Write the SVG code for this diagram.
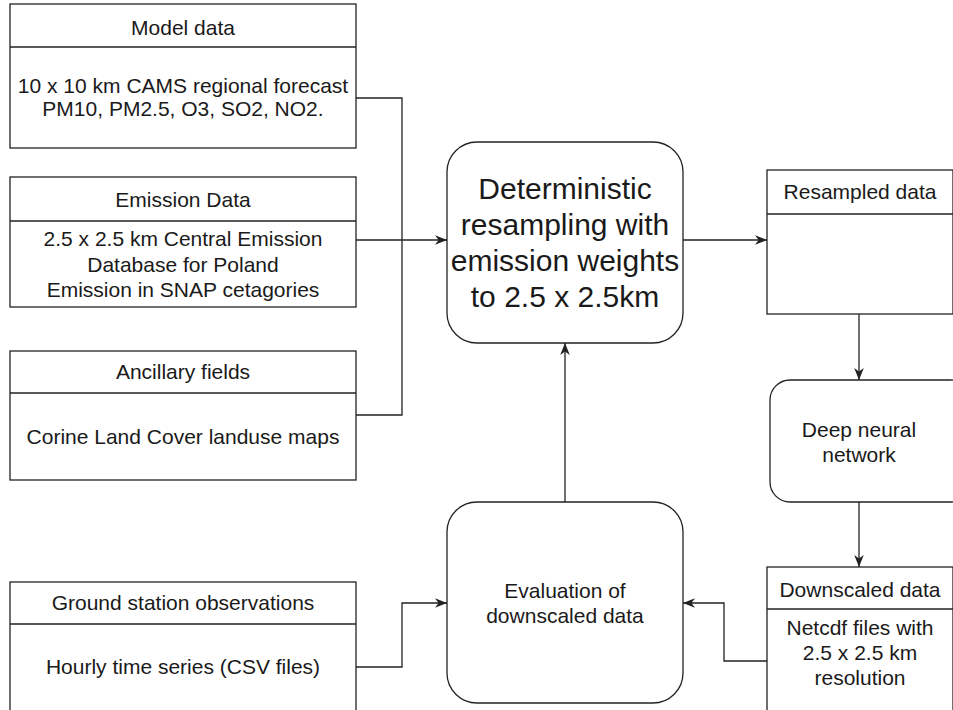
<svg xmlns="http://www.w3.org/2000/svg" width="953" height="710" viewBox="0 0 953 710">
<defs>
<style>
.box{fill:#fff;stroke:#222;stroke-width:1.3}
.ln{fill:none;stroke:#222;stroke-width:1.3}
.t{font-family:"Liberation Sans",Arial,sans-serif;font-size:21px;fill:#1a1a1a;text-anchor:middle}
.big{font-size:30px}
</style>
<marker id="arr" viewBox="0 0 10 8" refX="10" refY="4" markerWidth="12" markerHeight="10" markerUnits="userSpaceOnUse" orient="auto">
<path d="M0,0 L10,4 L0,8 L3,4 Z" fill="#222"/>
</marker>
</defs>
<rect width="953" height="710" fill="#fff"/>

<g id="connectors">
<path class="ln" d="M356,98 H402 V240"/>
<path class="ln" d="M356,415 H402 V240"/>
<path class="ln" d="M356,240 H447" marker-end="url(#arr)"/>
<path class="ln" d="M356,667 H402 V603 H447" marker-end="url(#arr)"/>
<path class="ln" d="M683,240 H767" marker-end="url(#arr)"/>
<path class="ln" d="M859,314 V380" marker-end="url(#arr)"/>
<path class="ln" d="M859,502 V567" marker-end="url(#arr)"/>
<path class="ln" d="M767,661 H724 V603 H683" marker-end="url(#arr)"/>
<path class="ln" d="M565,502 V343" marker-end="url(#arr)"/>
</g>

<g id="model-data">
<rect class="box" x="10" y="4" width="346" height="144"/>
<line class="ln" x1="10" y1="47" x2="356" y2="47"/>
<text class="t" x="183" y="34.5">Model data</text>
<text class="t" x="183" y="92.5">10 x 10 km CAMS regional forecast</text>
<text class="t" x="183" y="115.5">PM10, PM2.5, O3, SO2, NO2.</text>
</g>

<g id="emission-data">
<rect class="box" x="10" y="177" width="346" height="130"/>
<line class="ln" x1="10" y1="221" x2="356" y2="221"/>
<text class="t" x="183" y="207">Emission Data</text>
<text class="t" x="183" y="246">2.5 x 2.5 km Central Emission</text>
<text class="t" x="183" y="271.5">Database for Poland</text>
<text class="t" x="183" y="297">Emission in SNAP cetagories</text>
</g>

<g id="ancillary-fields">
<rect class="box" x="10" y="351" width="346" height="129"/>
<line class="ln" x1="10" y1="393" x2="356" y2="393"/>
<text class="t" x="183" y="379">Ancillary fields</text>
<text class="t" x="183" y="444">Corine Land Cover landuse maps</text>
</g>

<g id="ground-station">
<rect class="box" x="10" y="582" width="346" height="140"/>
<line class="ln" x1="10" y1="624" x2="356" y2="624"/>
<text class="t" x="183" y="610">Ground station observations</text>
<text class="t" x="183" y="674">Hourly time series (CSV files)</text>
</g>

<g id="resampling">
<rect class="box" x="447" y="142" width="236" height="201" rx="30" ry="30"/>
<text class="t big" x="565" y="199">Deterministic</text>
<text class="t big" x="565" y="235">resampling with</text>
<text class="t big" x="565" y="271">emission weights</text>
<text class="t big" x="565" y="307">to 2.5 x 2.5km</text>
</g>

<g id="evaluation">
<rect class="box" x="447" y="502" width="236" height="201" rx="30" ry="30"/>
<text class="t" x="565" y="598">Evaluation of</text>
<text class="t" x="565" y="623">downscaled data</text>
</g>

<g id="resampled-data">
<rect class="box" x="767" y="170" width="186" height="144"/>
<line class="ln" x1="767" y1="214" x2="953" y2="214"/>
<text class="t" x="860" y="199">Resampled data</text>
</g>

<g id="dnn">
<rect class="box" x="770" y="380" width="200" height="122" rx="20" ry="20"/>
<text class="t" x="859" y="437">Deep neural</text>
<text class="t" x="859" y="462">network</text>
</g>

<g id="downscaled-data">
<rect class="box" x="767" y="567" width="186" height="160"/>
<line class="ln" x1="767" y1="609" x2="953" y2="609"/>
<text class="t" x="860" y="597">Downscaled data</text>
<text class="t" x="860" y="635">Netcdf files with</text>
<text class="t" x="860" y="660">2.5 x 2.5 km</text>
<text class="t" x="860" y="685">resolution</text>
</g>
</svg>
